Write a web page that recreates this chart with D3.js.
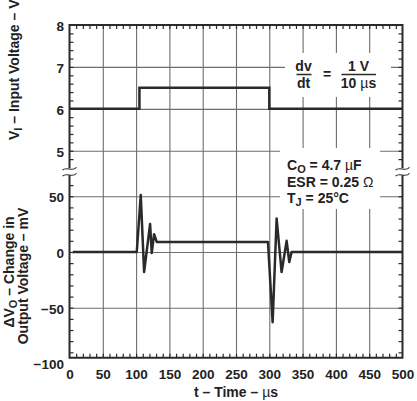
<!DOCTYPE html>
<html><head><meta charset="utf-8">
<script src="https://cdn.jsdelivr.net/npm/d3@7"></script>
<style>
body{margin:0;background:#fff;}
svg{display:block;}
</style></head><body>
<svg id="chart" width="417" height="401"></svg>
<script>
// ---- data ----
const xTickLabels = [0,50,100,150,200,250,300,350,400,450,500];
const voltTickLabels = [8,7,6,5];
const mvTickLabels = [50,0,-50,-100];
const inputTime  = [0,105,105,300,300,500];
const inputVolts = [6,6,6.5,6.5,6,6];
const outputTime = [5,101,107,112,121,123.5,127,131,298,305,311,318.5,326,330,333.5,500];
const outputMv   = [0,0,51,-18,25,-1,16,9,9,-63,30,-18,10,-9,0,0];

// ---- layout ----
const FONT = '"Liberation Sans", Arial, Helvetica, sans-serif';
const L = 69.5, R = 402.5, T = 25, B = 357.7, BRK = 171.7;
const INK = '#2a2a2a', GRID = '#6e6e6e';

const svg = d3.select('#chart').attr('font-family', FONT).attr('font-weight', 'bold');
svg.append('rect').attr('width', 417).attr('height', 401).attr('fill', '#fff');

const x = d3.scaleLinear([0, 500], [L, R]);
const yV = d3.scaleLinear([4.5, 8], [BRK, T]);
const yMv = d3.scaleLinear([-94.8, 72], [B, BRK]);

function clean(g){ g.select('.domain').remove(); }

// ---- gridlines ----
svg.append('g').attr('transform', `translate(0,${B})`)
  .call(d3.axisBottom(x).tickValues(xTickLabels.filter(v => v > 0 && v < 500)).tickSize(-(B - T)).tickFormat(''))
  .call(clean).selectAll('line').attr('stroke', GRID).attr('stroke-width', 1.1);
svg.append('g').attr('transform', `translate(${L},0)`)
  .call(d3.axisLeft(yV).tickValues([7,6,5]).tickSize(-(R - L)).tickFormat(''))
  .call(clean).selectAll('line').attr('stroke', GRID).attr('stroke-width', 1.1);
svg.append('g').attr('transform', `translate(${L},0)`)
  .call(d3.axisLeft(yMv).tickValues([50,0,-50]).tickSize(-(R - L)).tickFormat(''))
  .call(clean).selectAll('line').attr('stroke', GRID).attr('stroke-width', 1.1);

// ---- annotation boxes (white) ----
svg.append('rect').attr('x', 285).attr('y', 53).attr('width', 106).attr('height', 44).attr('fill', '#fff');
svg.append('rect').attr('x', 280).attr('y', 148).attr('width', 100).attr('height', 61).attr('fill', '#fff');

// ---- frame ----
const frame = svg.append('g').attr('stroke', INK).attr('stroke-width', 2).attr('fill', 'none');
frame.append('path').attr('d', `M${L},${T}H${R}M${L},${B}H${R}M${L},${T}V${B}M${R},${T}V${B}`).attr('stroke-linecap', 'square');

// ---- minor ticks ----
function minor(g){ g.call(clean); g.selectAll('line').attr('stroke', INK).attr('stroke-width', 1.2); }
svg.append('g').attr('transform', `translate(0,${T})`)
  .call(d3.axisBottom(x).tickValues(d3.range(10, 500, 10)).tickSize(4).tickFormat('')).call(minor);
svg.append('g').attr('transform', `translate(0,${B})`)
  .call(d3.axisTop(x).tickValues(d3.range(10, 500, 10)).tickSize(4).tickFormat('')).call(minor);
const vMinor = d3.range(48, 80, 2).map(v => v / 10);
const mvMinor = d3.range(-90, 61, 10);
svg.append('g').attr('transform', `translate(${L},0)`)
  .call(d3.axisRight(yV).tickValues(vMinor).tickSize(4).tickFormat('')).call(minor);
svg.append('g').attr('transform', `translate(${R},0)`)
  .call(d3.axisLeft(yV).tickValues(vMinor).tickSize(4).tickFormat('')).call(minor);
svg.append('g').attr('transform', `translate(${L},0)`)
  .call(d3.axisRight(yMv).tickValues(mvMinor).tickSize(4).tickFormat('')).call(minor);
svg.append('g').attr('transform', `translate(${R},0)`)
  .call(d3.axisLeft(yMv).tickValues(mvMinor).tickSize(4).tickFormat('')).call(minor);

// ---- axis breaks ----
[L, R].forEach(px => {
  svg.append('rect').attr('x', px - 3).attr('y', BRK - 3.5).attr('width', 6).attr('height', 7).attr('fill', '#fff');
  [-3, 3].forEach(off => {
    svg.append('path')
      .attr('d', `M${px-7},${BRK+off+1.5} C${px-3},${BRK+off-3} ${px+3},${BRK+off+4} ${px+7},${BRK+off-1.5}`)
      .attr('fill', 'none').attr('stroke', INK).attr('stroke-width', 1.1);
  });
});

// ---- tick labels ----
function labels(g){
  g.call(clean);
  g.attr('font-family', FONT).attr('font-size', 13.5).attr('font-weight', 'bold');
  g.selectAll('text').attr('fill', '#222');
}
svg.append('g').attr('transform', `translate(0,${B})`)
  .call(d3.axisBottom(x).tickValues(xTickLabels).tickSize(0).tickPadding(11.5).tickFormat(d3.format('d'))).call(labels);
svg.append('g').attr('transform', `translate(${L},0)`)
  .call(d3.axisLeft(yV).tickValues(voltTickLabels).tickSize(0).tickPadding(5.5).tickFormat(d3.format('d'))).call(labels)
  .selectAll('text').attr('dy', '0.42em');
svg.append('g').attr('transform', `translate(${L},0)`)
  .call(d3.axisLeft(yMv).tickValues(mvTickLabels).tickSize(0).tickPadding(5.5).tickFormat(d3.format('d'))).call(labels)
  .selectAll('text').attr('dy', '0.4em');

// ---- data lines ----
const idxIn = d3.range(inputTime.length);
const idxOut = d3.range(outputTime.length);
svg.append('path')
  .attr('d', d3.line().x(i => x(inputTime[i])).y(i => yV(inputVolts[i]))(idxIn))
  .attr('fill', 'none').attr('stroke', INK).attr('stroke-width', 2.5).attr('stroke-linejoin', 'miter');
svg.append('path')
  .attr('d', d3.line().x(i => x(outputTime[i])).y(i => yMv(outputMv[i]))(idxOut))
  .attr('fill', 'none').attr('stroke', INK).attr('stroke-width', 2.5).attr('stroke-linejoin', 'round');

// ---- annotations ----
const ann = svg.append('g').attr('font-size', 14).attr('fill', '#222');
function txt(px, py, anchor){ return ann.append('text').attr('x', px).attr('y', py).attr('text-anchor', anchor || 'start'); }
txt(303.5, 71, 'middle').text('dv');
txt(303.5, 88, 'middle').text('dt');
txt(327, 79, 'middle').text('=');
txt(358.5, 71, 'middle').text('1 V');
const ten = txt(358.5, 88, 'middle');
ten.append('tspan').text('10 ');
ten.append('tspan').attr('font-weight', 'normal').text('µ');
ten.append('tspan').text('s');
ann.append('path').attr('d', 'M296.5,74.5H311.5M341.5,74.5H376').attr('stroke', INK).attr('stroke-width', 1.3);

const l1 = txt(287, 170);
l1.append('tspan').text('C');
l1.append('tspan').attr('font-size', 11).attr('dy', 3).text('O');
l1.append('tspan').attr('dy', -3).text(' = 4.7 ');
l1.append('tspan').attr('font-weight', 'normal').text('µ');
l1.append('tspan').text('F');
const l2 = txt(287, 186.5);
l2.append('tspan').text('ESR = 0.25 ');
l2.append('tspan').attr('font-weight', 'normal').text('Ω');
const l3 = txt(287, 203);
l3.append('tspan').text('T');
l3.append('tspan').attr('font-size', 11).attr('dy', 3).text('J');
l3.append('tspan').attr('dy', -3).text(' = 25°C');

// ---- axis titles ----
const xt = txt(236, 397, 'middle');
xt.append('tspan').text('t – Time – ');
xt.append('tspan').attr('font-weight', 'normal').text('µ');
xt.append('tspan').text('s');

const yt1 = ann.append('text').attr('transform', 'translate(18.5,140) rotate(-90)').attr('text-anchor', 'start');
yt1.append('tspan').text('V');
yt1.append('tspan').attr('font-size', 11).attr('dy', 3).text('I');
yt1.append('tspan').attr('dy', -3).text(' – Input Voltage – V');

const yt2 = ann.append('text').attr('transform', 'translate(14,272) rotate(-90)').attr('text-anchor', 'middle');
yt2.append('tspan').text('ΔV');
yt2.append('tspan').attr('font-size', 11).attr('dy', 3).text('O');
yt2.append('tspan').attr('dy', -3).text(' – Change in');
ann.append('text').attr('transform', 'translate(28,276) rotate(-90)').attr('text-anchor', 'middle').text('Output Voltage – mV');
</script>
</body></html>
